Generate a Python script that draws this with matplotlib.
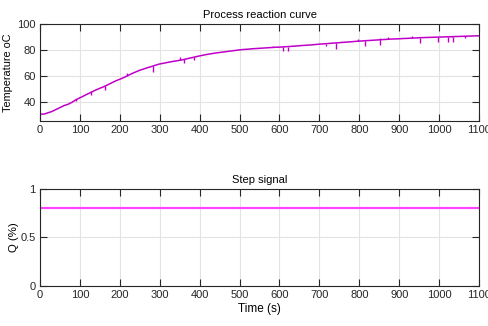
import matplotlib.pyplot as plt
import numpy as np

plt.rcParams['font.family'] = ['Liberation Sans Narrow', 'Liberation Sans', 'DejaVu Sans']

# process reaction curve, sampled every 10 s
time = np.arange(0, 1101, 10)
temp = [31, 31, 32, 33, 34.5, 36, 37.5, 38.5, 40, 42,
        43.5, 45, 46.5, 48, 49.5, 50.8, 52, 53.5, 55, 56.5,
        57.7, 59, 60.5, 62, 63.3, 64.6, 65.6, 66.6, 67.5, 68.5,
        69.4, 70, 70.6, 71.2, 71.7, 72.2, 72.8, 73.5, 74.2, 74.9,
        75.6, 76.2, 76.8, 77.3, 77.8, 78.2, 78.6, 79, 79.4, 79.8,
        80.2, 80.5, 80.7, 81, 81.2, 81.4, 81.6, 81.8, 82, 82.2,
        82.3, 82.5, 82.7, 82.9, 83.1, 83.4, 83.6, 83.8, 84, 84.3,
        84.6, 84.8, 85, 85.3, 85.5, 85.7, 86, 86.2, 86.4, 86.7,
        86.9, 87.1, 87.3, 87.5, 87.7, 87.9, 88.1, 88.3, 88.5, 88.6,
        88.7, 88.9, 89, 89.2, 89.3, 89.5, 89.6, 89.7, 89.8, 89.9,
        90, 90.1, 90.2, 90.3, 90.4, 90.5, 90.6, 90.7, 90.8, 90.9, 91]

# measurement glitches: time, curve level, glitch level
spike_t = [91, 129, 162, 217, 283, 351, 361, 387, 583, 608, 621, 717, 742,
           796, 815, 852, 853, 873, 933, 952, 996, 1023, 1033, 1034, 1065]
spike_base = [42.8, 48.4, 52.3, 60.2, 67.8, 72.3, 73.0, 74.8, 82.1, 82.4, 82.7,
              85.0, 85.5, 86.8, 87.2, 87.9, 87.9, 88.3, 89.2, 89.5, 89.9,
              90.2, 90.3, 90.3, 90.6]
spike_v = [41.0, 45.6, 49.5, 62.8, 63.5, 74.6, 70, 72.5, 82.9, 79.3, 79.3,
           82.8, 80.8, 88.5, 83.3, 89.2, 84, 90, 91, 85.4, 85.9, 86.6, 91, 85.9, 89.5]

step_t = [0, 1100]
step_q = [0.8, 0.8]

fig = plt.figure(figsize=(4.89, 3.26), dpi=100)
ax1 = fig.add_axes([0.0818, 0.6288, 0.8978, 0.2975])
ax2 = fig.add_axes([0.0818, 0.1218, 0.8978, 0.2994])


def style(ax):
    ax.grid(True, color='#e3e3e3', linewidth=0.8)
    ax.set_axisbelow(True)
    ax.tick_params(direction='in', top=True, right=True, labelsize=8,
                   length=5, width=0.8, colors='#262626', pad=3)
    for s in ax.spines.values():
        s.set_color('#262626')
        s.set_linewidth(0.8)
    ax.set_xlim(0, 1100)
    ax.set_xticks(np.arange(0, 1101, 100))


ax1.plot(time, temp, color='#c000c8', linewidth=1.1)
ax1.vlines(spike_t, spike_base, spike_v, color='#c000c8', linewidth=1.0)
style(ax1)
ax1.set_ylim(25.7, 100)
ax1.set_yticks([40, 60, 80, 100])
ax1.set_title('Process reaction curve', fontsize=8, pad=4)
ax1.set_ylabel('Temperature oC', fontsize=7.8)
ax1.yaxis.set_label_coords(-0.062, 0.5)

ax2.plot(step_t, step_q, color='#ff44ff', linewidth=1.6)
style(ax2)
ax2.set_ylim(0, 1)
ax2.set_yticks([0, 0.5, 1])
ax2.set_yticklabels(['0', '0.5', '1'])
ax2.set_title('Step signal', fontsize=8, pad=4)
ax2.set_ylabel('Q (%)', fontsize=8.2)
ax2.yaxis.set_label_coords(-0.047, 0.5)
ax2.set_xlabel('Time (s)', fontsize=8.5, labelpad=2)

fig.savefig('out.png', dpi=100)
